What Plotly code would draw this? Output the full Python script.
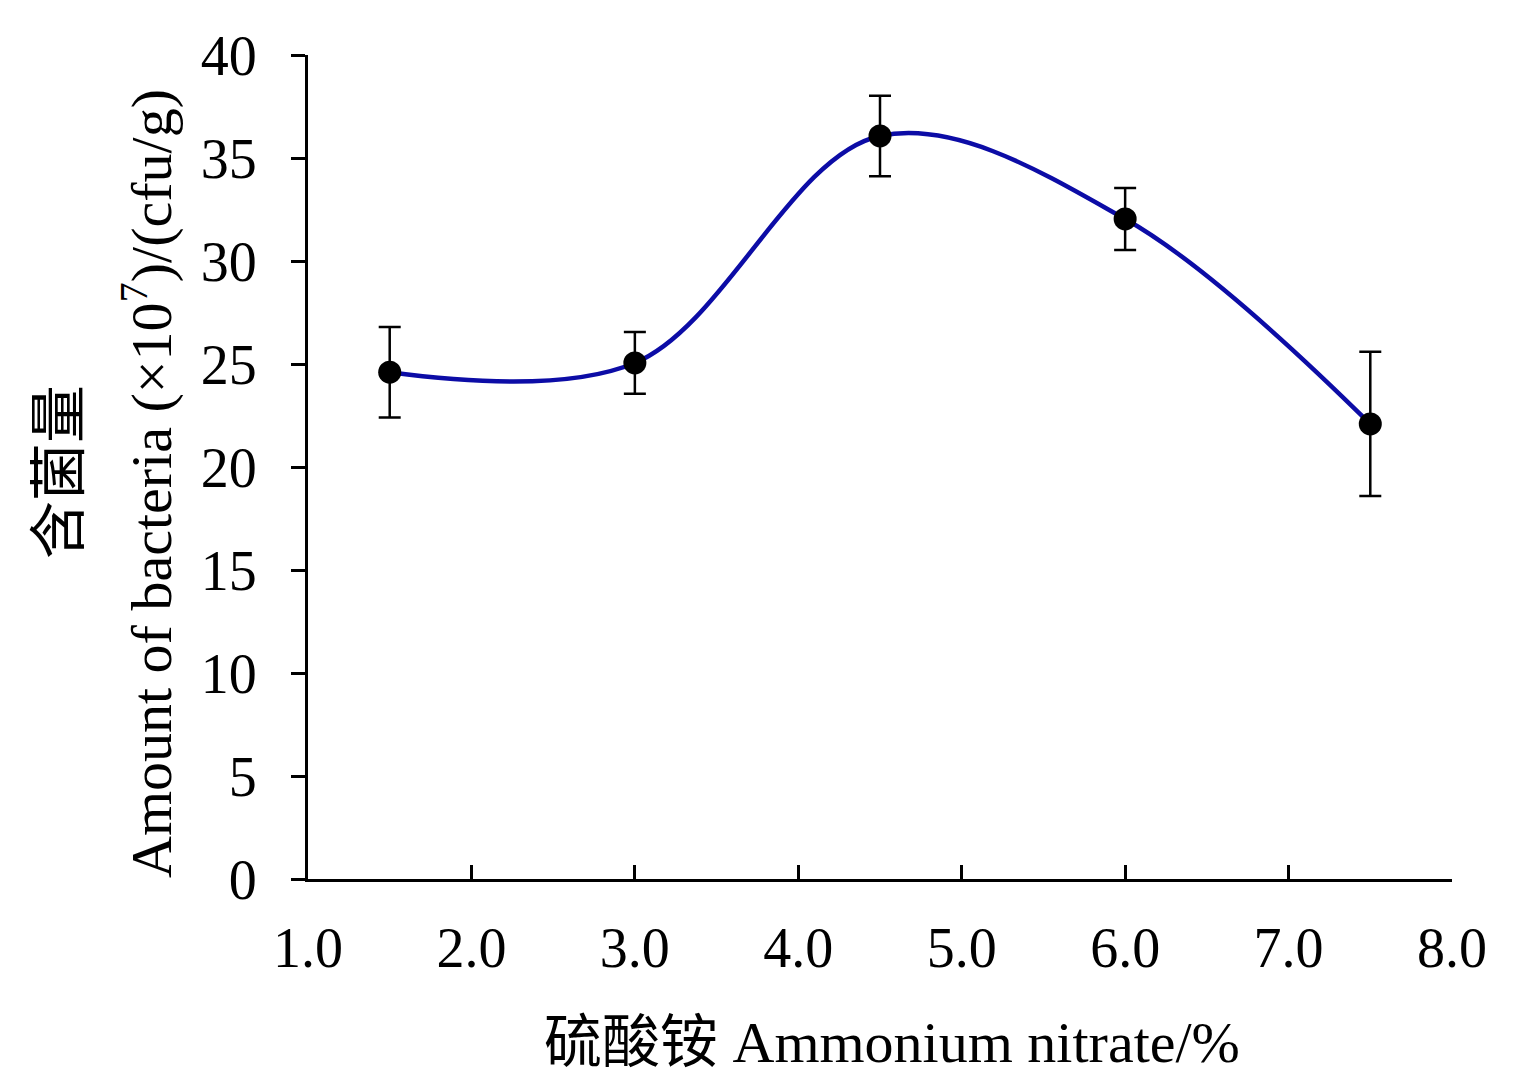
import plotly.graph_objects as go

# ammonium salt concentration (%) vs bacteria count (x10^7 cfu/g)
conc = [1.5, 3.0, 4.5, 6.0, 7.5]
amount = [24.6, 25.05, 36.07, 32.04, 22.09]
err = [2.2, 1.5, 1.95, 1.5, 3.5]

x_ticks = [1, 2, 3, 4, 5, 6, 7, 8]
x_ticktext = ["1.0", "2.0", "3.0", "4.0", "5.0", "6.0", "7.0", "8.0"]
y_ticks = [0, 5, 10, 15, 20, 25, 30, 35, 40]

FONT = "Liberation Serif, Times New Roman, Noto Sans CJK SC, serif"

fig = go.Figure()
fig.add_trace(go.Scatter(
    x=conc, y=amount,
    mode="lines",
    line=dict(color="#0c0ca6", width=4.5, shape="spline", smoothing=1),
    showlegend=False,
    hoverinfo="skip",
))
fig.add_trace(go.Scatter(
    x=conc, y=amount,
    mode="markers",
    marker=dict(color="black", size=23),
    error_y=dict(type="data", array=err, color="black", thickness=2.5, width=11),
    showlegend=False,
))

# axis titles as annotations so each line can be placed on its own
fig.add_annotation(
    text="含菌量",
    xref="paper", yref="paper", x=0, y=0.5,
    xanchor="center", yanchor="middle",
    xshift=-254, yshift=-5,
    textangle=-90, showarrow=False,
    font=dict(family="Noto Sans CJK SC, sans-serif", size=58, color="black"),
)
fig.add_annotation(
    text="Amount of bacteria (×10<sup>7</sup>)/(cfu/g)",
    xref="paper", yref="paper", x=0, y=0.5,
    xanchor="center", yanchor="middle",
    xshift=-161, yshift=-17,
    textangle=-90, showarrow=False,
    font=dict(family=FONT, size=58, color="black"),
)
fig.add_annotation(
    text="硫酸铵 Ammonium nitrate/%",
    xref="paper", yref="paper", x=0.5, y=0,
    xanchor="center", yanchor="middle",
    xshift=12, yshift=-163,
    showarrow=False,
    font=dict(family=FONT, size=58, color="black"),
)

fig.update_layout(
    width=1535, height=1075,
    margin=dict(l=300, r=91, t=47, b=204),
    paper_bgcolor="white",
    plot_bgcolor="white",
    font=dict(family=FONT, size=56, color="black"),
    xaxis=dict(
        range=[1, 8],
        tickvals=x_ticks, ticktext=x_ticktext,
        ticks="inside", ticklen=14, tickwidth=2.5, tickcolor="black",
        showline=True, linecolor="black", linewidth=3,
        showgrid=False, zeroline=False,
        ticklabelstandoff=18,
    ),
    yaxis=dict(
        range=[0, 40],
        tickvals=y_ticks,
        ticks="outside", ticklen=14, tickwidth=2.5, tickcolor="black",
        showline=True, linecolor="black", linewidth=3,
        showgrid=False, zeroline=False,
        ticklabelstandoff=23,
    ),
)

fig.write_html("out.html")
